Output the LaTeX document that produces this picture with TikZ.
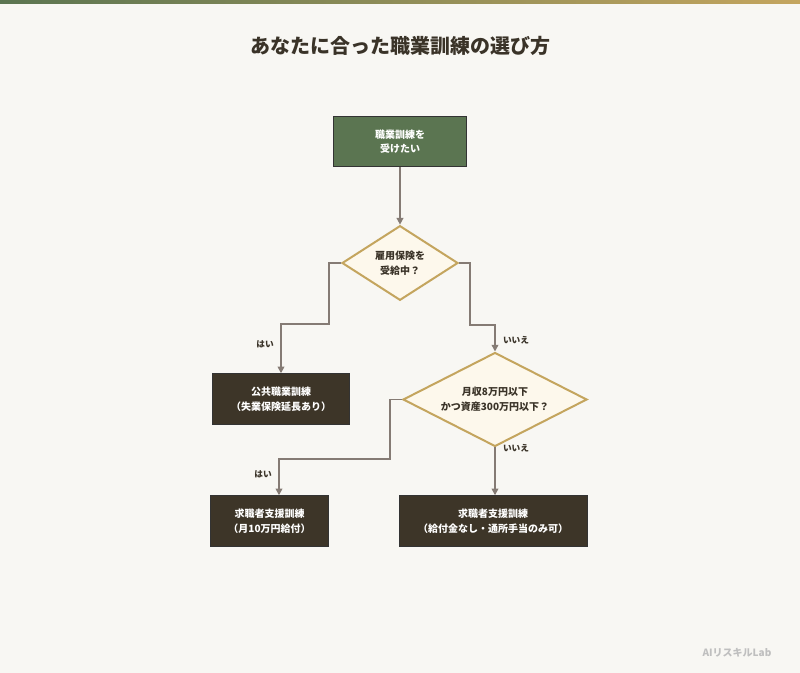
\documentclass[tikz,border=0pt]{standalone}
\usepackage{fontspec}
\setmainfont{Noto Sans CJK JP}
\usetikzlibrary{shapes.geometric,arrows.meta}
\definecolor{bg}{HTML}{F8F7F3}
\definecolor{startgreen}{HTML}{5B7551}
\definecolor{darkbox}{HTML}{3D3528}
\definecolor{gold}{HTML}{C4A55E}
\definecolor{cream}{HTML}{FDF8EC}
\definecolor{arrowgray}{HTML}{857B74}
\definecolor{txt}{HTML}{3A3328}
\tikzset{
  box/.style={draw=black!80, line width=0.6pt, minimum height=38pt, align=center,
    text=white, font=\fontsize{7.5pt}{11pt}\selectfont\bfseries},
  decision/.style={diamond, draw=gold, line width=1.5pt, fill=cream, aspect=1.55,
    inner sep=0pt, align=center, text=txt, font=\fontsize{7.5pt}{11pt}\selectfont\bfseries},
  flow/.style={draw=arrowgray, line width=1.1pt, -{Triangle[length=5pt,width=5pt]}},
  lbl/.style={text=txt, font=\fontsize{6.5pt}{8pt}\selectfont\bfseries}
}
\begin{document}
\begin{tikzpicture}[x=0.75pt,y=-0.75pt]
  \fill[bg] (0,0) rectangle (800,673);
  \shade[left color=startgreen, right color=gold] (0,0) rectangle (800,4);
  \useasboundingbox (0,0) rectangle (800,673);

  \node[text=txt, font=\fontsize{15pt}{18pt}\selectfont\bfseries] (title) at (400,46) {あなたに合った職業訓練の選び方};

  % nodes
  \node[box, fill=startgreen, minimum width=100pt] (start) at (400,141.5) {職業訓練を\\受けたい};
  \node[decision, minimum width=87pt, minimum height=56pt] (hoken) at (400,263) {雇用保険を\\受給中？};
  \node[box, fill=darkbox, minimum width=103pt] (koukyou) at (281,399) {公共職業訓練\\（失業保険延長あり）};
  \node[decision, minimum width=138pt, minimum height=56pt] (shotoku) at (495,399.5) {月収8万円以下\\かつ資産300万円以下？};
  \node[box, fill=darkbox, minimum width=88pt] (kyuufu) at (269.5,521) {求職者支援訓練\\（月10万円給付）};
  \node[box, fill=darkbox, minimum width=141pt] (nashi) at (493,521) {求職者支援訓練\\（給付金なし・通所手当のみ可）};

  % bends
  \coordinate (b1) at (329,324);
  \coordinate (b2) at (470,325);
  \coordinate (b3) at (390,459);

  % connectors
  \draw[flow] (start) -- (hoken);
  \draw[flow] (hoken.west) -- (b1 |- hoken.west) -- (b1) -| (koukyou.north);
  \draw[flow] (hoken.east) -- (b2 |- hoken.east) -- (b2) -| (shotoku.north);
  \draw[flow] (shotoku.west) -- (b3 |- shotoku.west) -- (b3) -| (kyuufu.north -| 279,0);
  \draw[flow] (shotoku.south) -- (shotoku.south |- nashi.north);

  % labels
  \node[lbl] (yes1) at (265,344) {はい};
  \node[lbl] (no1) at (516,340) {いいえ};
  \node[lbl] (yes2) at (263,474) {はい};
  \node[lbl] (no2) at (516,448) {いいえ};

  \node[text=black!25, font=\fontsize{7.5pt}{9pt}\selectfont\bfseries] (mark) at (737,653) {AIリスキルLab};
\end{tikzpicture}
\end{document}
